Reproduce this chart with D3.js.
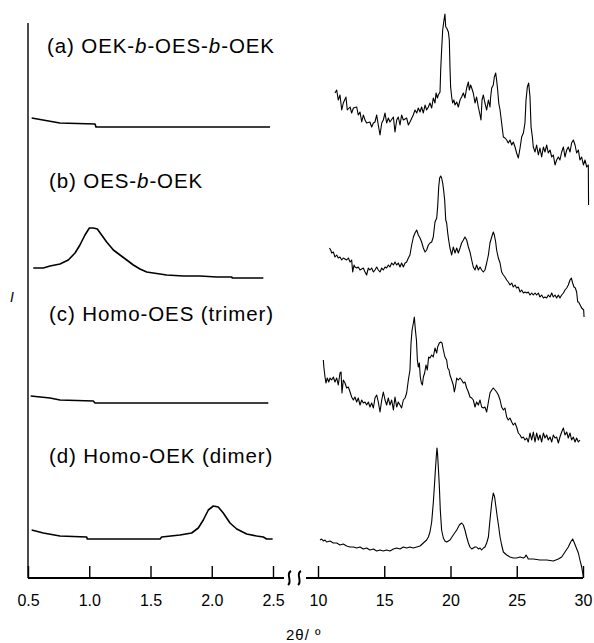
<!DOCTYPE html>
<html>
<head>
<meta charset="utf-8">
<script src="https://cdn.jsdelivr.net/npm/d3@7/dist/d3.min.js"></script>
<style>
  body { margin: 0; background: #fff; }
  svg { display: block; font-family: "Liberation Sans", Arial, sans-serif; }
  .trace { fill: none; stroke: #000; stroke-linejoin: round; }
  .axis text { font-size: 16px; fill: #000; }
  .axis line { stroke: #000; stroke-width: 1.4; }
</style>
</head>
<body>
<div id="chart-area"></div>
<script>
// tick values for the two halves of the broken 2θ axis
const lowTicks = [0.5, 1.0, 1.5, 2.0, 2.5];
const highTicks = [10, 15, 20, 25, 30];

// sample names, italic parts flagged
const sampleNames = [
  [["(a) OEK-", false], ["b", true], ["-OES-", false], ["b", true], ["-OEK", false]],
  [["(b) OES-", false], ["b", true], ["-OEK", false]],
  [["(c) Homo-OES (trimer)", false]],
  [["(d) Homo-OEK (dimer)", false]]
];

// small angle region, [2θ, I] (I with stacking offset)
const lowA = [[0.53,460],[0.76,455],[1.047,454],[1.055,451],[2.476,451]];
const lowB = [[0.543,310],[0.625,310],[0.68,312],[0.761,314],[0.829,318],[0.884,325],[0.924,333],[0.965,343],
  [1.001,350],[1.033,350],[1.066,349],[1.101,343],[1.142,336],[1.197,328],[1.251,323],[1.306,318],[1.36,313],
  [1.414,309],[1.469,306],[1.523,305],[1.632,303],[1.768,302],[1.904,302],[2.04,301],[2.163,301],[2.168,300],[2.421,300]];
const lowC = [[0.522,182],[0.68,180],[0.761,178],[1.033,177],[1.047,175],[2.462,175]];
const lowD = [[0.53,48],[0.625,45],[0.761,42],[0.979,41],[0.984,39],[1.578,39],[1.591,41],[1.741,43],[1.836,45],
  [1.89,50],[1.931,58],[1.972,68],[2.013,72],[2.053,71],[2.094,65],[2.149,55],[2.204,49],[2.285,44],[2.367,42],
  [2.421,41],[2.448,39],[2.497,39]];

// wide angle region, [2θ, I]
const highA = [[11.28,485],[11.41,488],[11.53,478],[11.66,483],[11.79,468],[11.91,475],[12.11,481],[12.21,468],
  [12.42,471],[12.54,465],[12.67,470],[12.92,471],[13.04,463],[13.17,466],[13.3,456],[13.42,463],[13.55,458],
  [13.67,455],[13.92,456],[14.05,451],[14.18,455],[14.3,456],[14.43,463],[14.55,453],[14.68,443],[14.81,455],
  [14.93,458],[15.06,465],[15.18,455],[15.31,460],[15.43,456],[15.69,461],[15.81,446],[15.94,458],[16.06,461],
  [16.19,453],[16.31,463],[16.44,458],[16.69,460],[16.82,453],[16.94,456],[17.19,463],[17.32,468],[17.45,465],
  [17.57,470],[17.7,466],[17.82,471],[17.95,465],[18.08,473],[18.2,468],[18.33,471],[18.45,475],[18.58,470],
  [18.7,480],[18.83,475],[18.91,485],[19.01,480],[19.08,483],[19.21,486],[19.26,508],[19.33,528],[19.41,548],
  [19.51,558],[19.58,564],[19.64,551],[19.71,550],[19.84,546],[19.91,538],[19.96,511],[20.01,491],[20.09,481],
  [20.16,475],[20.26,478],[20.34,473],[20.47,476],[20.59,471],[20.72,478],[20.84,481],[20.97,485],[21.09,480],
  [21.22,490],[21.35,496],[21.42,488],[21.52,493],[21.6,490],[21.72,485],[21.85,475],[21.97,481],[22.1,471],
  [22.23,463],[22.3,458],[22.38,478],[22.48,483],[22.6,475],[22.73,468],[22.86,478],[22.98,471],[23.03,481],
  [23.11,490],[23.23,493],[23.31,501],[23.41,505],[23.48,498],[23.56,488],[23.64,475],[23.74,468],[23.86,455],
  [23.99,441],[24.11,440],[24.24,438],[24.36,435],[24.49,438],[24.62,433],[24.74,436],[24.87,431],[24.99,425],
  [25.12,420],[25.25,430],[25.37,441],[25.5,445],[25.62,455],[25.7,478],[25.8,491],[25.9,495],[26.0,481],
  [26.08,451],[26.18,441],[26.25,431],[26.38,426],[26.5,433],[26.63,423],[26.75,430],[26.88,421],[27.01,431],
  [27.13,426],[27.26,433],[27.38,425],[27.51,428],[27.64,421],[27.76,423],[27.89,413],[28.01,418],[28.14,421],
  [28.26,418],[28.39,426],[28.52,431],[28.64,421],[28.77,428],[28.89,431],[29.02,426],[29.14,435],[29.27,438],
  [29.4,433],[29.52,425],[29.65,428],[29.77,418],[29.9,421],[30.03,413],[30.15,418],[30.28,411],[30.4,413],[30.42,373]];
const highB = [[10.86,330],[10.96,328],[11.03,325],[11.16,326],[11.28,321],[11.41,323],[11.53,320],[11.66,321],
  [11.79,318],[11.91,320],[12.16,318],[12.29,320],[12.42,316],[12.54,318],[12.62,306],[12.72,313],[12.79,311],
  [12.92,310],[13.04,311],[13.17,308],[13.42,310],[13.55,306],[13.67,303],[13.8,310],[13.92,308],[14.05,310],
  [14.18,306],[14.3,308],[14.43,311],[14.55,308],[14.68,306],[14.81,310],[14.93,308],[15.06,311],[15.18,310],
  [15.31,313],[15.43,311],[15.56,315],[15.69,313],[15.81,316],[15.94,313],[16.06,315],[16.19,311],[16.31,315],
  [16.44,311],[16.57,315],[16.69,316],[16.82,320],[16.94,323],[17.07,333],[17.2,341],[17.32,345],[17.45,348],
  [17.57,343],[17.7,340],[17.82,336],[17.95,330],[18.08,326],[18.2,328],[18.33,333],[18.45,335],[18.58,336],
  [18.7,341],[18.83,356],[18.96,360],[19.03,371],[19.11,391],[19.18,400],[19.26,402],[19.33,400],[19.41,395],
  [19.48,388],[19.56,378],[19.64,358],[19.71,355],[19.79,345],[19.86,338],[19.96,330],[20.09,323],[20.21,331],
  [20.34,325],[20.47,330],[20.59,325],[20.72,330],[20.84,335],[20.97,338],[21.09,341],[21.22,338],[21.35,331],
  [21.47,326],[21.6,318],[21.72,311],[21.85,308],[21.97,313],[22.1,308],[22.23,311],[22.35,308],[22.48,306],
  [22.6,308],[22.73,315],[22.86,323],[22.98,335],[23.11,341],[23.23,346],[23.31,343],[23.41,336],[23.48,328],
  [23.61,320],[23.74,315],[23.86,306],[23.99,303],[24.11,301],[24.24,298],[24.36,296],[24.49,293],[24.62,295],
  [24.74,291],[24.87,293],[24.99,290],[25.12,291],[25.25,286],[25.37,288],[25.5,285],[25.62,286],[25.75,285],
  [25.87,286],[26.0,283],[26.13,285],[26.25,283],[26.38,285],[26.5,283],[26.63,285],[26.75,281],[26.88,283],
  [27.01,280],[27.13,281],[27.26,280],[27.38,283],[27.51,281],[27.64,285],[27.76,281],[27.89,283],[28.01,280],
  [28.14,283],[28.26,280],[28.39,283],[28.52,285],[28.64,288],[28.77,290],[28.89,293],[29.02,298],[29.12,300],
  [29.22,295],[29.32,291],[29.42,290],[29.52,286],[29.6,276],[29.67,276],[29.9,270],[30.05,268],[30.08,261]];
const highC = [[10.4,218],[10.45,210],[10.53,201],[10.6,195],[10.7,200],[10.81,196],[10.91,200],[11.03,198],
  [11.16,201],[11.28,196],[11.41,200],[11.53,193],[11.66,205],[11.74,206],[11.81,185],[11.91,198],[12.04,195],
  [12.16,190],[12.29,191],[12.42,186],[12.54,181],[12.67,178],[12.79,181],[12.92,176],[13.04,180],[13.17,173],
  [13.3,178],[13.42,175],[13.55,176],[13.67,173],[13.8,176],[13.92,171],[14.05,175],[14.18,170],[14.3,180],
  [14.43,183],[14.55,176],[14.68,166],[14.81,178],[14.93,186],[15.06,178],[15.18,173],[15.31,180],[15.43,173],
  [15.56,178],[15.69,168],[15.81,181],[15.94,171],[16.06,176],[16.19,173],[16.31,170],[16.44,178],[16.57,180],
  [16.69,185],[16.82,198],[16.94,208],[17.02,235],[17.1,248],[17.2,255],[17.27,261],[17.35,248],[17.43,238],
  [17.5,218],[17.57,211],[17.65,215],[17.72,201],[17.8,195],[17.88,193],[17.95,201],[18.05,205],[18.15,213],
  [18.25,208],[18.35,221],[18.45,220],[18.58,223],[18.7,221],[18.83,230],[18.96,225],[19.03,231],[19.16,235],
  [19.26,236],[19.36,235],[19.46,228],[19.58,221],[19.71,218],[19.79,210],[19.89,208],[19.96,203],[20.09,198],
  [20.21,193],[20.29,186],[20.37,191],[20.47,200],[20.59,198],[20.72,200],[20.84,198],[20.97,195],[21.09,196],
  [21.22,190],[21.35,186],[21.47,181],[21.6,180],[21.72,178],[21.85,171],[21.97,176],[22.1,173],[22.23,178],
  [22.35,171],[22.48,170],[22.6,171],[22.73,166],[22.86,176],[22.98,185],[23.11,188],[23.23,190],[23.36,188],
  [23.48,186],[23.61,183],[23.74,178],[23.86,171],[23.99,168],[24.11,170],[24.24,161],[24.36,158],[24.49,160],
  [24.62,156],[24.74,153],[24.87,155],[24.99,151],[25.12,145],[25.25,143],[25.37,140],[25.5,141],[25.62,138],
  [25.75,140],[25.87,136],[26.0,145],[26.13,138],[26.25,146],[26.38,136],[26.5,145],[26.63,138],[26.75,143],
  [26.88,136],[27.01,145],[27.13,140],[27.26,143],[27.38,138],[27.51,141],[27.64,136],[27.76,143],[27.89,140],
  [28.01,141],[28.14,135],[28.26,141],[28.39,146],[28.52,150],[28.64,143],[28.77,146],[28.89,140],[29.02,145],
  [29.14,138],[29.27,141],[29.4,136],[29.52,140],[29.65,136],[29.77,138]];
const highD = [[10.15,38],[10.28,39],[10.4,37],[10.53,38],[10.65,36],[10.91,37],[11.16,35],[11.41,35],[11.66,33],
  [11.91,34],[12.16,32],[12.42,31],[12.67,31],[12.92,30],[13.17,31],[13.42,29],[13.67,30],[13.92,28],[14.18,29],
  [14.43,27],[14.68,28],[14.93,27],[15.18,28],[15.43,27],[15.69,29],[15.94,30],[16.19,29],[16.44,31],[16.69,30],
  [16.94,31],[17.19,30],[17.45,31],[17.7,32],[17.95,35],[18.2,38],[18.33,41],[18.45,46],[18.58,56],[18.7,75],
  [18.78,91],[18.86,108],[18.93,122],[18.98,130],[19.02,125],[19.08,111],[19.16,91],[19.23,68],[19.33,48],
  [19.46,40],[19.58,37],[19.71,36],[19.96,38],[20.21,43],[20.47,48],[20.67,53],[20.84,55],[20.97,53],[21.09,48],
  [21.22,41],[21.35,35],[21.47,31],[21.6,29],[21.72,30],[21.85,31],[21.97,31],[22.1,29],[22.23,30],[22.35,28],
  [22.48,30],[22.6,31],[22.73,35],[22.86,41],[22.98,58],[23.11,75],[23.23,85],[23.33,81],[23.43,71],[23.53,61],
  [23.64,51],[23.74,41],[23.86,33],[23.99,26],[24.24,23],[24.49,21],[24.74,20],[24.99,20],[25.25,21],[25.5,20],
  [25.62,21],[25.7,23],[25.8,21],[25.87,19],[26.25,19],[26.75,18],[27.26,18],[27.76,17],[28.14,19],[28.39,21],
  [28.64,26],[28.89,31],[29.07,36],[29.22,39],[29.32,36],[29.47,31],[29.65,25],[29.77,18],[29.9,11],[30.03,1]];

const lowSeries = [lowA, lowB, lowC, lowD];
const highSeries = [highA, highB, highC, highD];

const main = () => {
  const chart = { width: 594, height: 643 };
  const base = 578;

  const xLow = d3.scaleLinear().domain([0.5, 2.5]).range([28, 273]);
  const xHigh = d3.scaleLinear().domain([10, 30]).range([318, 583]);
  const y = d3.scaleLinear().domain([0, 555]).range([base, 23]);

  const svg = d3
    .select("#chart-area")
    .append("svg")
    .attr("width", chart.width)
    .attr("height", chart.height);

  // traces
  const lineLow = d3.line().x(d => xLow(d[0])).y(d => y(d[1]));
  const lineHigh = d3.line().x(d => xHigh(d[0])).y(d => y(d[1]));

  svg.selectAll(".low")
    .data(lowSeries)
    .enter()
    .append("path")
    .attr("class", "trace low")
    .attr("stroke-width", 1.6)
    .attr("d", lineLow);

  svg.selectAll(".high")
    .data(highSeries)
    .enter()
    .append("path")
    .attr("class", "trace high")
    .attr("stroke-width", 1.1)
    .attr("d", lineHigh);

  // sample labels, baseline levels in intensity units
  const labelLevels = [525, 390, 257, 115];
  const labels = svg.selectAll(".label")
    .data(sampleNames)
    .enter()
    .append("text")
    .attr("class", "label")
    .attr("x", (d, i) => (i == 0 ? 47 : 49))
    .attr("y", (d, i) => y(labelLevels[i]))
    .attr("font-size", "20.5px")
    .attr("letter-spacing", "0.9px");
  labels.selectAll("tspan")
    .data(d => d)
    .enter()
    .append("tspan")
    .attr("font-style", d => (d[1] ? "italic" : "normal"))
    .text(d => d[0]);

  // axes
  const lowAxis = d3.axisBottom(xLow)
    .tickValues(lowTicks)
    .tickFormat(d3.format(".1f"))
    .tickSizeInner(-12)
    .tickSizeOuter(0)
    .tickPadding(17);
  const highAxis = d3.axisBottom(xHigh)
    .tickValues(highTicks)
    .tickFormat(d3.format("d"))
    .tickSizeInner(-12)
    .tickSizeOuter(0)
    .tickPadding(17);

  svg.append("g")
    .attr("class", "axis")
    .attr("transform", `translate(0, ${base})`)
    .call(lowAxis);
  svg.append("g")
    .attr("class", "axis")
    .attr("transform", `translate(0, ${base})`)
    .call(highAxis);
  svg.selectAll(".axis .domain").remove();

  // baseline pieces either side of the break
  svg.append("line")
    .attr("x1", xLow(0.5)).attr("x2", xLow(2.5) + 11)
    .attr("y1", base).attr("y2", base)
    .attr("stroke", "#000").attr("stroke-width", 2);
  svg.append("line")
    .attr("x1", xHigh(10) - 12).attr("x2", xHigh(30))
    .attr("y1", base).attr("y2", base)
    .attr("stroke", "#000").attr("stroke-width", 2);

  // break marks
  [289, 299].forEach(bx => {
    svg.append("path")
      .attr("d", `M${bx + 2},${base - 7} C${bx - 4},${base - 4} ${bx + 4},${base + 3} ${bx - 1},${base + 7}`)
      .attr("fill", "none")
      .attr("stroke", "#000")
      .attr("stroke-width", 2);
  });

  // intensity axis
  svg.append("line")
    .attr("x1", xLow(0.5)).attr("x2", xLow(0.5))
    .attr("y1", y(555)).attr("y2", base)
    .attr("stroke", "#000").attr("stroke-width", 1.4);

  svg.append("text")
    .text("I")
    .attr("x", 12)
    .attr("y", 302)
    .attr("text-anchor", "middle")
    .attr("font-size", "14px")
    .attr("font-style", "italic");

  svg.append("text")
    .text("2θ/ º")
    .attr("x", 286)
    .attr("y", 640)
    .attr("font-size", "15px")
    .attr("letter-spacing", "1px");
};

window.onload = main;
</script>
</body>
</html>
